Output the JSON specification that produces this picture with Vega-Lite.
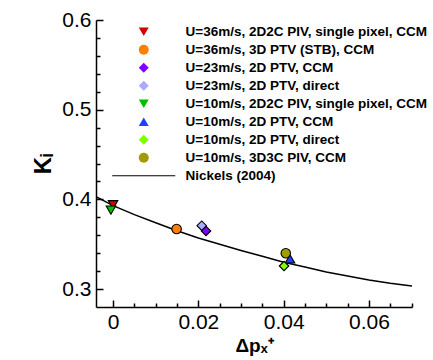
{
  "$schema": "https://vega.github.io/schema/vega-lite/v6.json",
  "width": 316,
  "height": 287,
  "autosize": "none",
  "padding": {"left": 96, "top": 20, "right": 21, "bottom": 53},
  "background": "white",
  "config": {
    "view": {"stroke": null},
    "font": "Liberation Sans",
    "axis": {
      "domainColor": "black",
      "domainWidth": 1.5,
      "labelColor": "black",
      "labelFont": "Liberation Sans",
      "labelFontSize": 21,
      "labelFontWeight": "normal",
      "titleColor": "black",
      "titleFont": "Liberation Sans",
      "titleFontWeight": "bold",
      "labelOverlap": false,
      "labelFlush": false
    },
    "legend": {
      "orient": "none",
      "legendX": 41,
      "legendY": 5,
      "padding": 0,
      "labelFont": "Liberation Sans",
      "labelFontSize": 13.5,
      "labelFontWeight": "bold",
      "labelColor": "black",
      "labelLimit": 400,
      "rowPadding": 3,
      "labelOffset": 35,
      "symbolStrokeColor": "black",
      "symbolStrokeWidth": 1.1,
      "symbolOpacity": 1
    }
  },
  "datasets": {
    "pts": [
      {"dp": 0.0, "K": 0.394, "series": "U=36m/s, 2D2C PIV, single pixel, CCM"},
      {"dp": 0.0149, "K": 0.367, "series": "U=36m/s, 3D PTV (STB), CCM"},
      {"dp": 0.0218, "K": 0.3648, "series": "U=23m/s, 2D PTV, CCM"},
      {"dp": 0.0208, "K": 0.3707, "series": "U=23m/s, 2D PTV, direct"},
      {"dp": -0.0005, "K": 0.388, "series": "U=10m/s, 2D2C PIV, single pixel, CCM"},
      {"dp": 0.0415, "K": 0.3336, "series": "U=10m/s, 2D PTV, CCM"},
      {"dp": 0.0401, "K": 0.3257, "series": "U=10m/s, 2D PTV, direct"},
      {"dp": 0.0405, "K": 0.340, "series": "U=10m/s, 3D3C PIV, CCM"}
    ],
    "curve": [
      {"dp": -0.004, "K": 0.403},
      {"dp": 0.0, "K": 0.393},
      {"dp": 0.005, "K": 0.383},
      {"dp": 0.01, "K": 0.374},
      {"dp": 0.015, "K": 0.365},
      {"dp": 0.02, "K": 0.357},
      {"dp": 0.025, "K": 0.350},
      {"dp": 0.03, "K": 0.343},
      {"dp": 0.035, "K": 0.3365},
      {"dp": 0.04, "K": 0.330},
      {"dp": 0.045, "K": 0.3245},
      {"dp": 0.05, "K": 0.319},
      {"dp": 0.055, "K": 0.3145},
      {"dp": 0.06, "K": 0.310},
      {"dp": 0.065, "K": 0.3065},
      {"dp": 0.0701, "K": 0.3035}
    ]
  },
  "resolve": {"axis": {"x": "independent", "y": "independent"}},
  "layer": [
    {
      "data": {"name": "curve"},
      "mark": {"type": "line", "color": "black", "strokeWidth": 1.5, "clip": true},
      "encoding": {
        "x": {
          "field": "dp",
          "type": "quantitative",
          "scale": {"domain": [-0.004, 0.0701], "nice": false, "zero": false},
          "axis": {
            "orient": "bottom",
            "title": "Δpₓ⁺",
            "titleFontSize": 19,
            "titlePadding": 4,
            "values": [0, 0.02, 0.04, 0.06],
            "labelExpr": "format(datum.value, '.2~f')",
            "ticks": false,
            "grid": false,
            "labelPadding": 4
          }
        },
        "y": {
          "field": "K",
          "type": "quantitative",
          "scale": {"domain": [0.28, 0.6], "nice": false, "zero": false},
          "axis": {
            "orient": "left",
            "title": "Kᵢ",
            "titleFontSize": 24,
            "titlePadding": 6,
            "values": [0.3, 0.4, 0.5, 0.6],
            "labelExpr": "format(datum.value, '.1f')",
            "ticks": false,
            "grid": false,
            "labelPadding": 5
          }
        }
      }
    },
    {
      "data": {"name": "pts"},
      "mark": {"type": "point", "filled": true, "opacity": 1, "stroke": "black", "strokeWidth": 1.1},
      "encoding": {
        "x": {
          "field": "dp",
          "type": "quantitative",
          "scale": {"domain": [-0.004, 0.0701], "nice": false, "zero": false},
          "axis": {
            "orient": "top",
            "offset": -287,
            "title": null,
            "labels": false,
            "domain": false,
            "grid": false,
            "values": [0, 0.005, 0.01, 0.015, 0.02, 0.025, 0.03, 0.035, 0.04, 0.045, 0.05, 0.055, 0.06, 0.065, 0.07],
            "ticks": true,
            "tickColor": "black",
            "tickWidth": 1.5,
            "tickOpacity": 1,
            "tickSize": {"condition": {"test": "abs(datum.value*50 - round(datum.value*50)) < 0.001", "value": 7}, "value": 4}
          }
        },
        "y": {
          "field": "K",
          "type": "quantitative",
          "scale": {"domain": [0.28, 0.6], "nice": false, "zero": false},
          "axis": {
            "orient": "right",
            "offset": -316,
            "title": null,
            "labels": false,
            "domain": false,
            "grid": false,
            "values": [0.3, 0.32, 0.34, 0.36, 0.38, 0.4, 0.42, 0.44, 0.46, 0.48, 0.5, 0.52, 0.54, 0.56, 0.58, 0.6],
            "ticks": true,
            "tickColor": "black",
            "tickWidth": 1.5,
            "tickOpacity": 1,
            "tickSize": {"condition": {"test": "abs(datum.value*10 - round(datum.value*10)) < 0.001", "value": 7}, "value": 4}
          }
        },
        "fill": {
          "field": "series",
          "type": "nominal",
          "scale": {
            "domain": [
              "U=36m/s, 2D2C PIV, single pixel, CCM",
              "U=36m/s, 3D PTV (STB), CCM",
              "U=23m/s, 2D PTV, CCM",
              "U=23m/s, 2D PTV, direct",
              "U=10m/s, 2D2C PIV, single pixel, CCM",
              "U=10m/s, 2D PTV, CCM",
              "U=10m/s, 2D PTV, direct",
              "U=10m/s, 3D3C PIV, CCM",
              "Nickels (2004)"
            ],
            "range": ["#d40000", "#ff8000", "#8000ff", "#aaaaff", "#00c000", "#2040ff", "#80ff00", "#a39c00", "black"]
          },
          "legend": {"title": null}
        },
        "shape": {
          "field": "series",
          "type": "nominal",
          "scale": {
            "domain": [
              "U=36m/s, 2D2C PIV, single pixel, CCM",
              "U=36m/s, 3D PTV (STB), CCM",
              "U=23m/s, 2D PTV, CCM",
              "U=23m/s, 2D PTV, direct",
              "U=10m/s, 2D2C PIV, single pixel, CCM",
              "U=10m/s, 2D PTV, CCM",
              "U=10m/s, 2D PTV, direct",
              "U=10m/s, 3D3C PIV, CCM",
              "Nickels (2004)"
            ],
            "range": ["triangle-down", "circle", "diamond", "diamond", "triangle-down", "triangle-up", "diamond", "circle", "M-6.3,-0.12H6.3V0.12H-6.3Z"]
          },
          "legend": {"title": null}
        },
        "size": {"value": 90}
      }
    }
  ]
}
